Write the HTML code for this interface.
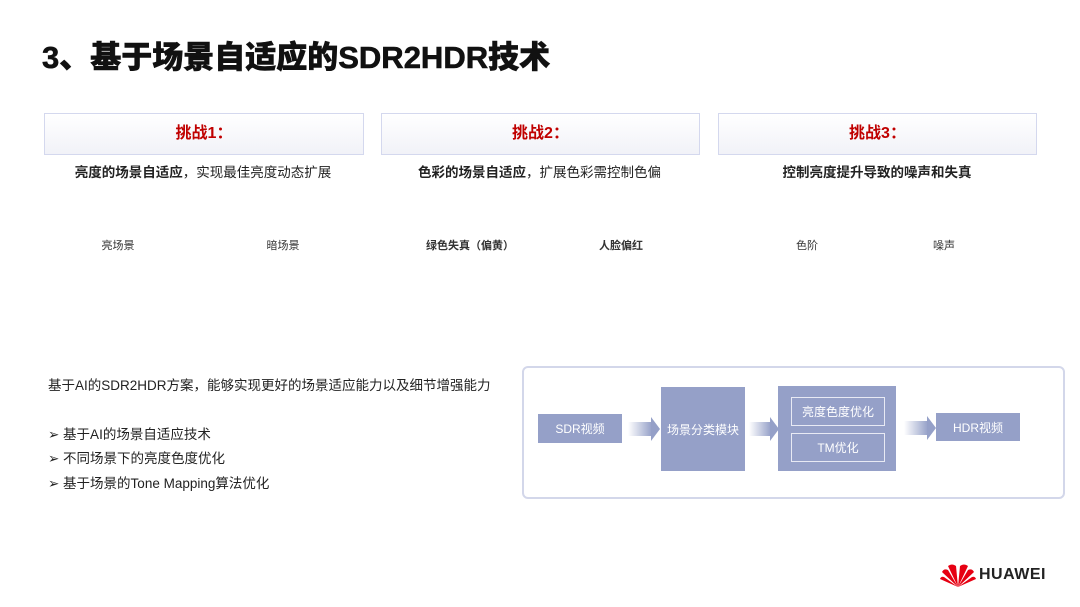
<!DOCTYPE html>
<html><head><meta charset="utf-8"><style>
body{margin:0;width:1080px;height:607px;background:#fff;position:relative;overflow:hidden;font-family:"Liberation Sans","Noto Sans CJK SC",sans-serif;color:#222}
.a{position:absolute}
.hb{position:absolute;top:113px;height:40px;border:1px solid #d4d8ee;background:linear-gradient(#fff,#f1f2f8);color:#c00000;font-weight:bold;font-size:16px;text-align:center;line-height:40px}
.sub{position:absolute;top:161px;font-size:13.5px;text-align:center}
.lb{position:absolute;top:237px;font-size:11px;color:#333;text-align:center;width:80px}
.bx{position:absolute;background:#95a0c8;color:#fff;font-size:12px;display:flex;align-items:center;justify-content:center}
.ib{position:absolute;border:1px solid #e8eaf4;color:#fff;font-size:12px;display:flex;align-items:center;justify-content:center}
.ar{position:absolute;height:14px;background:linear-gradient(90deg,rgba(149,160,200,0),#95a0c8)}
.ar:after{content:"";position:absolute;right:-8px;top:-5px;border-left:9px solid #95a0c8;border-top:12px solid transparent;border-bottom:12px solid transparent}
.bl{position:absolute;left:48px;font-size:13.5px}
</style></head><body>
<div class="a" style="left:42px;top:32px;font-size:31px;font-weight:900;color:#111;-webkit-text-stroke:0.6px #111">3、基于场景自适应的SDR2HDR技术</div>
<div class="hb" style="left:44px;width:318px">挑战1：</div>
<div class="hb" style="left:381px;width:317px">挑战2：</div>
<div class="hb" style="left:718px;width:317px">挑战3：</div>
<div class="sub" style="left:44px;width:318px"><b>亮度的场景自适应</b>，实现最佳亮度动态扩展</div>
<div class="sub" style="left:381px;width:317px"><b>色彩的场景自适应</b>，扩展色彩需控制色偏</div>
<div class="sub" style="left:718px;width:318px"><b>控制亮度提升导致的噪声和失真</b></div>
<div class="lb" style="left:78px">亮场景</div>
<div class="lb" style="left:243px">暗场景</div>
<div class="lb" style="left:420px;width:100px;font-weight:bold">绿色失真（偏黄）</div>
<div class="lb" style="left:581px;font-weight:bold">人脸偏红</div>
<div class="lb" style="left:767px">色阶</div>
<div class="lb" style="left:904px">噪声</div>
<div class="bl" style="top:374px">基于AI的SDR2HDR方案，能够实现更好的场景适应能力以及细节增强能力</div>
<div class="bl" style="top:423px">➢ 基于AI的场景自适应技术</div>
<div class="bl" style="top:447px">➢ 不同场景下的亮度色度优化</div>
<div class="bl" style="top:472px">➢ 基于场景的Tone Mapping算法优化</div>
<div class="a" style="left:522px;top:366px;width:539px;height:129px;border:2px solid #d3d7ea;border-radius:6px"></div>
<div class="bx" style="left:538px;top:414px;width:84px;height:29px">SDR视频</div>
<div class="ar" style="left:628px;top:422px;width:24px"></div>
<div class="bx" style="left:661px;top:387px;width:84px;height:84px">场景分类模块</div>
<div class="ar" style="left:749px;top:422px;width:22px"></div>
<div class="bx" style="left:778px;top:386px;width:118px;height:85px"></div>
<div class="ib" style="left:791px;top:397px;width:92px;height:27px">亮度色度优化</div>
<div class="ib" style="left:791px;top:433px;width:92px;height:27px">TM优化</div>
<div class="ar" style="left:904px;top:421px;width:24px"></div>
<div class="bx" style="left:936px;top:413px;width:84px;height:28px">HDR视频</div>
<svg class="a" style="left:940px;top:562px" width="36" height="26" viewBox="0 0 36 26">
<g fill="#e60012"><path d="M18 25 L8 4 Q12 1 16 4 Z"/><path d="M18 25 L20 4 Q24 1 28 4 Z"/><path d="M18 25 L2 10 Q4 6 8 8 Z"/><path d="M18 25 L28 8 Q32 6 34 10 Z"/><path d="M18 25 L0 17 Q1 14 4 15 Z"/><path d="M18 25 L32 15 Q35 14 36 17 Z"/></g></svg>
<div class="a" style="left:979px;top:566px;font-size:16px;font-weight:bold;color:#222;letter-spacing:0.5px">HUAWEI</div>
</body></html>
